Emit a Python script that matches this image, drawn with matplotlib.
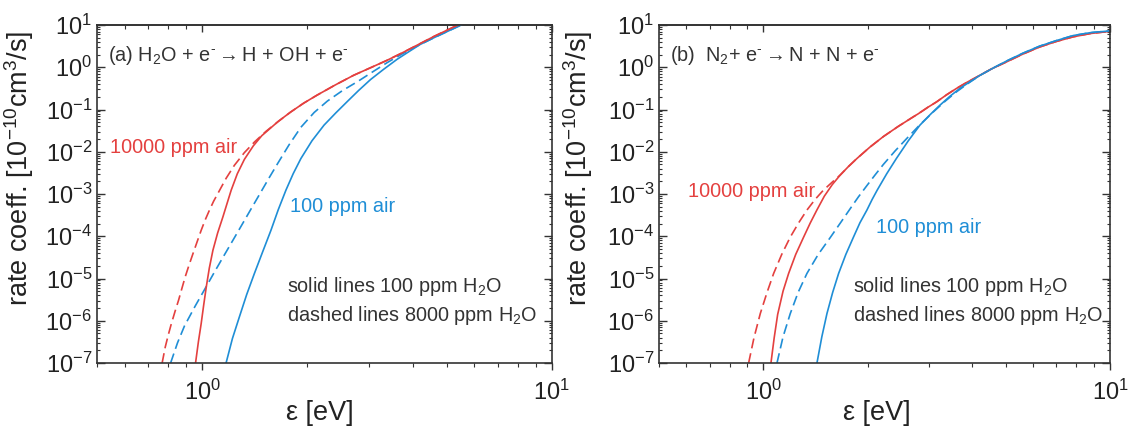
import numpy as np
import matplotlib
matplotlib.use('Agg')
import matplotlib.pyplot as plt
from matplotlib.ticker import LogLocator, NullFormatter

plt.rcParams['font.family'] = ['Liberation Sans', 'DejaVu Sans']
plt.rcParams['mathtext.fontset'] = 'custom'
plt.rcParams['mathtext.rm'] = 'Liberation Sans'
plt.rcParams['mathtext.it'] = 'Liberation Sans:italic'
plt.rcParams['mathtext.bf'] = 'Liberation Sans:bold'

RED = '#e4403f'
BLUE = '#1f8ed6'
INK = '#333333'

# panel (a): H2O + e -> H + OH + e   (energy in eV, log10 of rate coeff.)
a_red_solid_E = [0.957, 0.975, 0.993, 1.010, 1.027, 1.048, 1.073, 1.107, 1.146, 1.178, 1.21, 1.26, 1.32,
                 1.40, 1.48, 1.538, 1.65, 1.79, 1.95, 2.13, 2.40, 2.71, 3.05, 3.38, 3.75, 4.11, 4.6, 5.23, 5.6]
a_red_solid_k = [-7, -6.5, -6.07, -5.62, -5.2, -4.75, -4.33, -3.92, -3.54, -3.22, -2.91, -2.52, -2.18,
                 -1.86, -1.62, -1.50, -1.28, -1.06, -0.85, -0.66, -0.42, -0.19, 0.0, 0.166, 0.35, 0.52, 0.73, 0.95, 1.05]
a_red_dash_E = [0.768, 0.784, 0.80, 0.816, 0.836, 0.856, 0.875, 0.894, 0.917, 0.941, 0.967, 0.993, 1.02,
                1.049, 1.078, 1.108, 1.17, 1.236, 1.32, 1.41, 1.52, 1.64, 1.79, 1.95, 2.13, 2.40, 2.71,
                3.05, 3.38, 3.75, 4.11, 4.6, 5.23, 5.6]
a_red_dash_k = [-7, -6.62, -6.33, -6.07, -5.78, -5.51, -5.23, -4.96, -4.68, -4.41, -4.13, -3.86, -3.61,
                -3.38, -3.17, -2.99, -2.63, -2.32, -2.02, -1.77, -1.52, -1.30, -1.06, -0.85, -0.66, -0.42, -0.19,
                0.0, 0.166, 0.35, 0.52, 0.73, 0.95, 1.05]
a_blue_dash_E = [0.812, 0.85, 0.89, 0.955, 1.027, 1.085, 1.146, 1.215, 1.29, 1.38, 1.47, 1.55, 1.64, 1.77,
                 1.915, 2.09, 2.28, 2.52, 2.78, 3.07, 3.38, 3.72, 4.11, 4.55, 5.0, 5.6]
a_blue_dash_k = [-7, -6.52, -6.12, -5.65, -5.19, -4.84, -4.50, -4.14, -3.77, -3.35, -2.96, -2.63, -2.29, -1.84,
                 -1.42, -1.07, -0.80, -0.55, -0.34, -0.11, 0.11, 0.31, 0.50, 0.68, 0.84, 1.03]
a_blue_solid_E = [1.17, 1.22, 1.277, 1.34, 1.41, 1.49, 1.572, 1.65, 1.735, 1.82, 1.915, 2.06, 2.23, 2.41,
                  2.6, 2.8, 3.03, 3.3, 3.61, 3.9, 4.2, 4.6, 5.0, 5.6]
a_blue_solid_k = [-7, -6.42, -5.91, -5.38, -4.88, -4.36, -3.86, -3.37, -2.91, -2.52, -2.16, -1.74, -1.37, -1.08,
                  -0.81, -0.55, -0.29, -0.05, 0.19, 0.37, 0.54, 0.70, 0.84, 1.03]

# panel (b): N2 + e -> N + N + e
b_red_solid_E = [1.052, 1.075, 1.10, 1.14, 1.183, 1.24, 1.307, 1.365, 1.427, 1.50, 1.58, 1.667, 1.76, 1.862,
                 2.03, 2.22, 2.45, 2.7, 2.8, 2.98, 3.16, 3.38, 3.61, 3.86, 4.13, 4.55, 5.04, 5.6, 6.27, 7.0,
                 7.83, 8.8, 10.0]
b_red_solid_k = [-7, -6.4, -5.85, -5.3, -4.88, -4.43, -4.02, -3.69, -3.38, -3.05, -2.78, -2.55, -2.35, -2.16,
                 -1.89, -1.64, -1.40, -1.18, -1.10, -0.95, -0.82, -0.65, -0.5, -0.36, -0.23, -0.04, 0.13, 0.31,
                 0.48, 0.61, 0.72, 0.80, 0.85]
b_red_dash_E = [0.907, 0.94, 0.98, 1.025, 1.071, 1.13, 1.196, 1.265, 1.336, 1.41, 1.49, 1.58, 1.667, 1.76,
                1.862, 2.03, 2.22, 2.45, 2.7, 2.8, 2.98, 3.16, 3.38, 3.61, 3.86, 4.13, 4.55, 5.04, 5.6, 6.27,
                7.0, 7.83, 8.8, 10.0]
b_red_dash_k = [-7, -6.4, -5.83, -5.33, -4.88, -4.43, -4.02, -3.68, -3.38, -3.13, -2.91, -2.72, -2.55, -2.35,
                -2.16, -1.89, -1.64, -1.40, -1.18, -1.10, -0.95, -0.82, -0.65, -0.5, -0.36, -0.23, -0.04, 0.13,
                0.31, 0.48, 0.61, 0.72, 0.80, 0.85]
b_blue_dash_E = [1.095, 1.14, 1.196, 1.26, 1.336, 1.44, 1.56, 1.67, 1.78, 1.88, 1.99, 2.1, 2.22, 2.4, 2.59,
                 2.83, 3.09, 3.35, 3.61, 3.9, 4.22, 4.6, 5.04, 5.6, 6.27, 7.0, 7.83, 8.8, 10.0]
b_blue_dash_k = [-7, -6.38, -5.83, -5.33, -4.88, -4.43, -4.03, -3.68, -3.35, -3.07, -2.8, -2.55, -2.3, -1.98,
                 -1.69, -1.36, -1.06, -0.8, -0.58, -0.38, -0.19, -0.02, 0.15, 0.33, 0.5, 0.63, 0.75, 0.82, 0.86]
b_blue_solid_E = [1.428, 1.475, 1.526, 1.585, 1.649, 1.73, 1.82, 1.9, 1.99, 2.06, 2.13, 2.27, 2.42, 2.62,
                  2.83, 3.03, 3.23, 3.45, 3.69, 3.95, 4.22, 4.6, 5.04, 5.6, 6.27, 7.0, 7.83, 8.8, 10.0]
b_blue_solid_k = [-7, -6.38, -5.83, -5.33, -4.88, -4.43, -4.02, -3.68, -3.38, -3.13, -2.91, -2.52, -2.16, -1.74,
                  -1.37, -1.12, -0.9, -0.69, -0.5, -0.34, -0.19, -0.02, 0.15, 0.33, 0.5, 0.63, 0.75, 0.82, 0.86]

panels = [
    dict(rect=[0.0855, 0.1538, 0.4012, 0.7879],
         title=r'(a) H$_2$O + e$^{\text{-}}$$\rightarrow$H + OH + e$^{\text{-}}$',
         curves=[(a_red_dash_E, a_red_dash_k, RED, '--'), (a_blue_dash_E, a_blue_dash_k, BLUE, '--'),
                 (a_blue_solid_E, a_blue_solid_k, BLUE, '-'), (a_red_solid_E, a_red_solid_k, RED, '-')],
         red_pos=(0.029, 0.639), blue_pos=(0.424, 0.462), note_x=0.418,
         ylab_x=-0.133, xlab_x=0.49),
    dict(rect=[0.5811, 0.1538, 0.3977, 0.7879],
         title=r'(b)  N$_2$+ e$^{\text{-}}$$\rightarrow$N + N + e$^{\text{-}}$',
         curves=[(b_red_dash_E, b_red_dash_k, RED, '--'), (b_blue_dash_E, b_blue_dash_k, BLUE, '--'),
                 (b_red_solid_E, b_red_solid_k, RED, '-'), (b_blue_solid_E, b_blue_solid_k, BLUE, '-')],
         red_pos=(0.064, 0.506), blue_pos=(0.481, 0.40), note_x=0.430,
         ylab_x=-0.142, xlab_x=0.483),
]

fig = plt.figure(figsize=(11.34, 4.29), dpi=100)

for p in panels:
    ax = fig.add_axes(p['rect'])
    for E, lk, c, ls in p['curves']:
        line, = ax.plot(E, 10.0 ** np.array(lk), color=c, lw=1.2, ls=ls)
        if ls == '--':
            line.set_dashes((6, 3))
    ax.set_xscale('log')
    ax.set_yscale('log')
    ax.set_xlim(0.5, 10)
    ax.set_ylim(1e-7, 10)

    ax.yaxis.set_major_locator(LogLocator(base=10, numticks=20))
    ax.yaxis.set_minor_locator(LogLocator(base=10, subs=np.arange(2, 10), numticks=20))
    ax.yaxis.set_minor_formatter(NullFormatter())
    ax.xaxis.set_minor_locator(LogLocator(base=10, subs=np.arange(2, 10), numticks=20))
    ax.xaxis.set_minor_formatter(NullFormatter())

    for s in ax.spines.values():
        s.set_color(INK)
        s.set_linewidth(1.2)
    ax.tick_params(axis='y', which='both', direction='in', left=True, right=True,
                   colors=INK, labelsize=17, labelcolor='#222222')
    ax.tick_params(axis='y', which='major', length=5.5, width=1)
    ax.tick_params(axis='y', which='minor', length=2.5, width=0.8)
    ax.tick_params(axis='x', which='both', direction='out', top=False,
                   colors=INK, labelsize=17, labelcolor='#222222', pad=7)
    ax.tick_params(axis='x', which='major', length=5, width=1)
    ax.tick_params(axis='x', which='minor', length=3, width=0.8)

    top = ax.secondary_xaxis('top')
    top.xaxis.set_major_locator(LogLocator(base=10, numticks=20))
    top.xaxis.set_minor_locator(LogLocator(base=10, subs=np.arange(2, 10), numticks=20))
    top.tick_params(which='both', direction='in', labeltop=False, colors=INK)
    top.tick_params(which='major', length=5, width=1)
    top.tick_params(which='minor', length=3, width=0.8)
    top.spines['top'].set_color(INK)
    top.spines['top'].set_linewidth(1.2)

    ax.set_ylabel(r'rate coeff. [10$^{-10}$cm$^3$/s]', fontsize=19.5, color='#222222')
    ax.yaxis.set_label_coords(p['ylab_x'], 0.575)
    ax.set_xlabel(r'ε [eV]', fontsize=19.5, color='#222222')
    ax.xaxis.set_label_coords(p['xlab_x'], -0.11)

    ax.text(0.024, 0.911, p['title'], transform=ax.transAxes, fontsize=14.3,
            color=INK, va='center', ha='left')
    ax.text(*p['red_pos'], '10000 ppm air', transform=ax.transAxes, fontsize=14.3,
            color=RED, va='center', ha='left')
    ax.text(*p['blue_pos'], '100 ppm air', transform=ax.transAxes, fontsize=14.3,
            color=BLUE, va='center', ha='left')
    ax.text(p['note_x'], 0.225, r'solid lines 100 ppm H$_2$O', transform=ax.transAxes,
            fontsize=14.3, color=INK, va='center', ha='left')
    ax.text(p['note_x'], 0.142, r'dashed lines 8000 ppm H$_2$O', transform=ax.transAxes,
            fontsize=14.3, color=INK, va='center', ha='left')

fig.savefig('out.png', dpi=100)
